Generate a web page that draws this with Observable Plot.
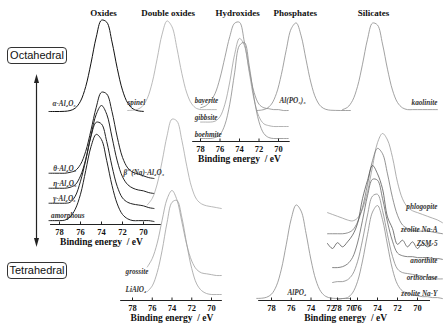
<!DOCTYPE html>
<html><head><meta charset="utf-8">
<script src="https://cdn.jsdelivr.net/npm/d3@7"></script>
<script src="https://cdn.jsdelivr.net/npm/@observablehq/plot@0.6"></script>
<style>
body{margin:0;background:#fff}
#fig{position:relative;width:448px;height:324px;overflow:hidden;background:#fff}
#fig svg.layer{position:absolute;left:0;top:0}
.box{position:absolute;left:7px;width:58px;height:15px;border:1.2px solid #333;border-radius:4px;font:11px "Liberation Sans",Arial,sans-serif;line-height:15px;text-align:center;color:#111;background:#fff}
</style></head><body>
<div id="fig">
  <div class="box" style="top:47px">Octahedral</div>
  <div class="box" style="top:262px">Tetrahedral</div>
  <svg class="layer" width="448" height="324">
    <line x1="36.5" y1="80" x2="36.5" y2="241" stroke="#222" stroke-width="1.2"/>
    <polygon points="36.5,74 34,83 39,83" fill="#222"/>
    <polygon points="36.5,247 34,238 39,238" fill="#222"/>
  </svg>
</div>
<script>
// ---------- data ----------
const energy = [79.5,79,78.5,78,77.5,77,76.5,76,75.5,75,74.5,74,73.5,73,72.5,72,71.5,71,70.5,70,69.5,69,68.5,68,67.5];
const ticks = [78,76,74,72,70];
const columnTitles = ["Oxides","Double oxides","Hydroxides","Phosphates","Silicates"];
const axisTitle = "Binding energy  / eV";

const oxideNames = ["α-Al₂O₃","θ-Al₂O₃","η-Al₂O₃","γ-Al₂O₃","amorphous"];
const oxideOffsets = [113,46,31,16,3];
const oxideHeights = [93,88,88,88,88];
const oxideSpectra = [
  [null,0,0,0,.002,.01,.036,.111,.269,.52,.8,.982,.96,.748,.464,.229,.09,.028,.007,.001],
  [null,.06,.06,.06,.06,.07,.09,.16,.31,.55,.81,.98,.96,.76,.47,.24,.12,.07,.05,.03,.01,0],
  [null,.06,.06,.06,.06,.07,.1,.2,.39,.66,.9,1,.9,.64,.37,.19,.1,.06,.04,.03,.01,0],
  [null,.06,.06,.06,.06,.07,.14,.31,.55,.82,.98,.96,.76,.48,.25,.12,.07,.05,.04,.03,.01,0],
  [null,.01,.01,.01,.015,.05,.14,.31,.58,.85,.99,.93,.69,.41,.2,.08,.03,.01,.01,.01,.01,0]
];

const doubleNames = ["spinel","β″(Na)-Al₂O₃","grossite","LiAlO₂"];
const doubleOffsets = [190,92,25,6];
const doubleHeights = [90,91,85,96];
const doubleSpectra = [
  [null,null,0,.003,.013,.046,.135,.312,.577,.849,.995,.93,.692,.41,.194,.073,.022,.01,.01,.01,.01],
  [null,null,null,null,null,null,.04,.111,.269,.52,.8,.982,.96,.748,.464,.229,.1,.05,.03,.02,.01,0],
  [null,null,null,null,null,null,.1,.2,.38,.65,.9,1,.89,.63,.36,.17,.07,.03,.02,.01,0,0],
  [null,null,null,null,null,null,.03,.09,.23,.46,.75,.96,.98,.8,.52,.27,.11,.04,.01,0,0,0]
];

const hydroxideNames = ["bayerite","gibbsite","boehmite"];
const hydroxideOffsets = [31,15,3];
const hydroxideHeights = [90,89,98];
const hydroxideSpectra = [
  [null,null,null,.03,.05,.1,.19,.36,.59,.82,.97,.98,.76,.45,.2,.07,.03,.02,.01,.01,0,0],
  [null,null,null,.05,.05,.05,.06,.11,.25,.5,.81,.99,.91,.61,.3,.11,.03,.01,0,0,0,0],
  [null,null,null,0,0,0,.01,.04,.14,.35,.67,.95,.98,.74,.41,.17,.05,.01,0,0,0,0]
];

const phosphateNames = ["Al(PO₃)₃","AlPO₄"];
const phosphateOffsets = [190,2];
const phosphateHeights = [88,94];
const phosphateSpectra = [
  [0,.005,.022,.073,.194,.41,.692,.93,.995,.849,.577,.312,.135,.046,.013,.003,.001,0,0,0],
  [.001,.003,.013,.046,.135,.312,.577,.849,.995,.93,.692,.41,.194,.073,.022,.005,.001,0,0,0]
];

const silicateNames = ["kaolinite","phlogopite","zeolite Na-A","ZSM-5","anorthite","orthoclase","zeolite Na-Y"];
const silicateOffsets = [190,75,65,52,32,18,1];
const silicateHeights = [89,92,88,83,91,90,94];
const silicateSpectra = [
  [null,null,null,null,.01,.036,.111,.269,.52,.8,.982,.96,.748,.464,.229,.09,.03,.01,.01,.01,.01,.01,.01,.01],
  [null,.14,.12,.1,.08,.06,.05,.08,.18,.37,.64,.9,1,.93,.74,.47,.29,.2,.16,.14,.12,.1,.08,.06,.03],
  [null,.02,.02,.02,.02,.03,.06,.15,.32,.58,.85,.99,.93,.7,.43,.23,.12,.08,.06,.05,.05,.05,.04,.03,.02],
  [null,.06,0,.07,.02,.08,.16,.3,.6,.82,1,.9,.72,.38,.24,.05,.1,.02,.08,0,.06,.02,.05],
  [null,null,.01,.01,.02,.05,.12,.28,.53,.8,.98,.97,.77,.51,.3,.17,.14,.13,.13,.12,.12,.12,.11,.11,.1],
  [null,null,0,.01,.01,.03,.09,.23,.47,.75,.96,.98,.8,.53,.29,.15,.11,.1,.09,.08,.07,.06,.05,.04,.04],
  [null,null,null,0,.01,.02,.07,.19,.41,.69,.93,1,.85,.58,.32,.16,.09,.07,.05,.04,.03,.03,.02,.02,.01]
];

// ---------- layout (positions / styles) ----------
const serif = '"Liberation Serif","Times New Roman",serif';
const panels = [
  {title: columnTitles[0], names: oxideNames, offsets: oxideOffsets, heights: oxideHeights, spectra: oxideSpectra,
   x78: 59, x70: 143, axisY: 224, axisFrom: 78.85, axisTo: 68.3, titleE: 73.8, axisTitleE: 74,
   colors: ["#111","#222","#222","#222","#222"], strokeWidth: 1,
   labelE: [78.67,78.6,78.6,78.6,78.8], anchor: "start", lifts: [8,10,10,10,6]},
  {title: columnTitles[1], names: doubleNames, offsets: doubleOffsets, heights: doubleHeights, spectra: doubleSpectra,
   x78: 132, x70: 211, axisY: 300, axisFrom: 79.2, axisTo: 68.9, titleE: 74.4, axisTitleE: 74,
   colors: ["#a8a8a8","#a8a8a8","#a0a0a0","#a0a0a0"], strokeWidth: 0.8,
   labelE: [78.5,78.9,78.7,78.7], anchor: "start", lifts: [8,36,4,5]},
  {title: columnTitles[2], names: hydroxideNames, offsets: hydroxideOffsets, heights: hydroxideHeights, spectra: hydroxideSpectra,
   x78: 200, x70: 278, axisY: 141, axisFrom: 78.8, axisTo: 68.8, titleE: 74.2, axisTitleE: 74,
   colors: ["#8a8a8a","#a0a0a0","#8a8a8a"], strokeWidth: 0.8,
   labelE: [78.6,78.6,78.6], anchor: "start", lifts: [10,9,4]},
  {title: columnTitles[3], names: phosphateNames, offsets: phosphateOffsets, heights: phosphateHeights, spectra: phosphateSpectra,
   x78: 271, x70: 350, axisY: 300, axisFrom: 79.3, axisTo: 70, titleE: 75.6, axisTitleE: 70.5,
   colors: ["#8a8a8a","#8a8a8a"], strokeWidth: 0.8,
   labelE: [77.19,76.38], anchor: "start", lifts: [10,6]},
  {title: columnTitles[4], names: silicateNames, offsets: silicateOffsets, heights: silicateHeights, spectra: silicateSpectra,
   x78: 337, x70: 417, axisY: 300, axisFrom: 78.7, axisTo: 68.7, titleE: 74.4, axisTitleE: null,
   colors: ["#8a8a8a","#9a9a9a","#777","#555","#666","#888","#8a8a8a"], strokeWidth: 0.8,
   labelE: [68,68,68,68,68,68,68], anchor: "end", lifts: [8,19,6,5,8,5,6]}
];

function panel(p) {
  const marks = [];
  p.names.forEach((name, i) => {
    const pts = [];
    p.spectra[i].forEach((v, j) => {
      if (v != null) pts.push({e: energy[j], v: p.offsets[i] + p.heights[i] * v});
    });
    marks.push(Plot.line(pts, {x: "e", y: "v", stroke: p.colors[i], strokeWidth: p.strokeWidth, curve: "catmull-rom"}));
  });
  const labels = p.names.map((name, i) => ({name, e: p.labelE[i], v: p.offsets[i] + p.lifts[i]}));
  marks.push(Plot.text(labels, {x: "e", y: "v", text: "name", textAnchor: p.anchor,
    fontFamily: serif, fontStyle: "italic", fontWeight: "bold", fontSize: 7.2, fill: "#333"}));
  marks.push(Plot.ruleY([0], {x1: p.axisFrom, x2: p.axisTo, stroke: "#222", strokeWidth: 1}));
  marks.push(Plot.ruleX(ticks, {x: d => d, y1: 0, y2: 2.5, stroke: "#222"}));
  marks.push(Plot.text(ticks, {x: d => d, y: 0, dy: 8, text: d => String(d),
    fontFamily: serif, fontWeight: "bold", fontSize: 8.5, fill: "#111"}));
  if (p.axisTitleE != null) {
    marks.push(Plot.text([axisTitle], {x: p.axisTitleE, y: 0, dy: 17, text: d => d,
      fontFamily: serif, fontWeight: "bold", fontSize: 9.5, fill: "#111"}));
  }
  marks.push(Plot.text([p.title], {x: p.titleE, frameAnchor: "top", dy: 9.5, text: d => d,
    fontFamily: serif, fontWeight: "bold", fontSize: 9, fill: "#111"}));
  const svg = Plot.plot({
    width: 448, height: 324, margin: 0,
    x: {domain: [78, 70], range: [p.x78, p.x70], axis: null},
    y: {domain: [0, 100], range: [p.axisY, p.axisY - 100], axis: null},
    style: {background: "transparent", overflow: "visible"},
    marks
  });
  svg.classList.add("layer");
  return svg;
}

const fig = document.getElementById("fig");
panels.forEach(p => fig.appendChild(panel(p)));
</script>
</body></html>
